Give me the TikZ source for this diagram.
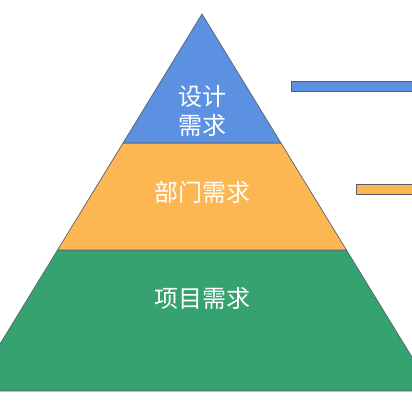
\documentclass[tikz,border=0pt]{standalone}
\usepackage{fontspec}
\newfontfamily\cjk{Noto Sans CJK SC}
\definecolor{layerblue}{RGB}{92,145,226}
\definecolor{layerorange}{RGB}{252,182,82}
\definecolor{layergreen}{RGB}{54,162,111}
\definecolor{edgegray}{RGB}{88,96,110}

\begin{document}
\begin{tikzpicture}[x=1pt,y=-1pt,layer/.style={draw=edgegray,line width=0.7pt},bar/.style={draw=edgegray,line width=0.6pt},label/.style={text=white,font=\cjk\fontsize{24}{29}\selectfont,align=center,inner sep=0pt}]
\def\ax{202};
\def\ay{14};
\def\ya{143};
\def\yb{250};
\def\yc{391};
\def\sl{0.612};

\useasboundingbox (0,0) rectangle (412,411);
\clip (0,0) rectangle (412,411);

\coordinate (apex) at (\ax,\ay);
\coordinate (BL) at (\ax-\sl*\ya+\sl*\ay,\ya);
\coordinate (BR) at (\ax+\sl*\ya-\sl*\ay,\ya);
\coordinate (OL) at (\ax-\sl*\yb+\sl*\ay,\yb);
\coordinate (OR) at (\ax+\sl*\yb-\sl*\ay,\yb);
\coordinate (GL) at (\ax-\sl*\yc+\sl*\ay,\yc);
\coordinate (GR) at (\ax+\sl*\yc-\sl*\ay,\yc);

\filldraw[layer,fill=layergreen] (OL) -- (OR) -- (GR) -- (GL) -- cycle;
\filldraw[layer,fill=layerorange] (BL) -- (BR) -- (OR) -- (OL) -- cycle;
\filldraw[layer,fill=layerblue] (apex) -- (BR) -- (BL) -- cycle;

\filldraw[bar,fill=layerblue] (291,81) rectangle (420,91);
\filldraw[bar,fill=layerorange] (356,184) rectangle (420,194);

\node[label] (design) at (\ax,111) {设计\\需求};
\node[label] (dept) at (\ax,192) {部门需求};
\node[label] (project) at (\ax,298) {项目需求};
\end{tikzpicture}
\end{document}
